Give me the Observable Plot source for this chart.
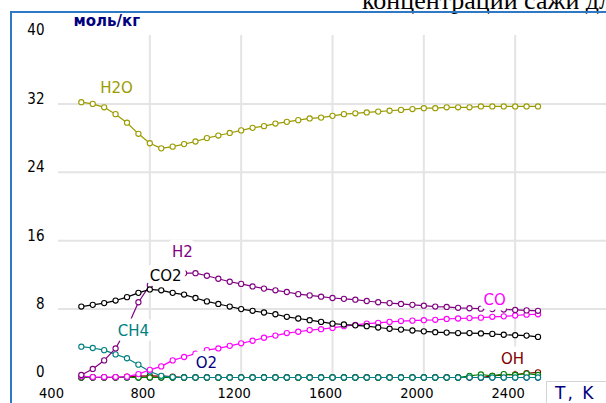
<!DOCTYPE html>
<html><head><meta charset="utf-8">
<script src="https://cdn.jsdelivr.net/npm/d3@7"></script>
<script src="https://cdn.jsdelivr.net/npm/@observablehq/plot@0.6"></script>
<style>
body{margin:0;width:606px;height:403px;overflow:hidden;position:relative;background:#fff;}
#chart{position:absolute;left:0;top:0}
#title{position:absolute;left:362px;top:-12px;font:26px "Liberation Serif";line-height:26px;white-space:nowrap;color:#000}
#frame{position:absolute;left:10px;top:11px;width:620px;height:420px;border-left:2px solid #2f78c4;border-top:2px solid #2f78c4;}
#tk{position:absolute;left:546px;top:381px;width:80px;height:40px;border:1px solid #d4d4d4;font:17px "DejaVu Sans";color:#000080;padding:1px 0 0 8px;letter-spacing:2px;white-space:pre;background:#fff}
</style></head><body>
<div id="chart"></div>
<div id="title">концентрации сажи для</div>
<div id="frame"></div>
<div id="tk">T, K</div>
<script>
// Temperature grid, K
const T = [500,550,600,650,700,750,800,850,900,950,1000,1050,1100,1150,1200,1250,1300,1350,1400,1450,1500,
           1550,1600,1650,1700,1750,1800,1850,1900,1950,2000,2050,2100,2150,2200,2250,2300,2350,2400,2450,2500];

// Concentrations, моль/кг
const H2O = [32.2,32.0,31.6,30.8,29.8,28.5,27.4,26.8,27.0,27.3,27.6,28.0,28.3,28.6,28.9,29.2,29.4,29.7,29.9,30.1,30.3,
             30.4,30.6,30.8,30.9,31.0,31.1,31.2,31.3,31.4,31.5,31.5,31.6,31.6,31.6,31.7,31.7,31.7,31.7,31.7,31.7];
const CO2 = [8.3,8.5,8.7,9.0,9.4,9.9,10.3,10.2,9.9,9.7,9.3,8.9,8.6,8.3,8.0,7.8,7.6,7.4,7.1,6.9,6.7,
             6.5,6.3,6.2,6.1,6.0,5.85,5.7,5.6,5.5,5.4,5.3,5.25,5.2,5.2,5.15,5.1,5.0,4.95,4.9,4.75];
const H2  = [0.3,1.0,2.0,3.4,5.8,8.8,10.8,11.6,12.0,12.2,12.2,11.9,11.55,11.2,10.95,10.65,10.4,10.2,10.0,9.75,9.6,
             9.45,9.3,9.2,9.1,8.95,8.8,8.7,8.6,8.5,8.4,8.3,8.25,8.15,8.1,8.05,8.0,7.95,7.9,7.85,7.8];
const CH4 = [3.6,3.45,3.2,2.7,2.25,1.5,0.7,0.2,0.05,0,0,0,0,0,0,0,0,0,0,0,0,
             0,0,0,0,0,0,0,0,0,0,0,0,0,0,0,0,0,0,0,0];
const CO  = [0.15,0.05,0.05,0.05,0.1,0.4,0.9,1.3,2.0,2.4,2.8,3.2,3.4,3.7,4.0,4.3,4.65,4.9,5.2,5.35,5.55,
             5.65,5.8,6.0,6.15,6.3,6.4,6.5,6.6,6.65,6.7,6.75,6.85,6.9,6.95,7.0,7.1,7.15,7.25,7.35,7.4];
const O2  = [0,0,0,0,0,0,0,0,0,0,0,0,0,0,0,0,0,0,0,0,0,
             0,0,0,0,0,0,0,0,0,0,0,0,0,0,0,0,0,0,0,0];
const OH  = [0,0,0,0,0.1,0.15,0.2,0.15,0.1,0,0,0,0,0,0,0,0,0,0,0,0,
             0,0,0,0,0,0,0,0,0,0,0,0,0,0,0,0.2,0.3,0.35,0.5,0.6];
const H   = [0,0,0,0,0,0,0,0,0,0,0,0,0,0,0,0,0,0,0,0,0,
             0,0,0,0,0,0,0,0,0,0,0,0,0,0.2,0.35,0.2,0.4,0.3,0.45,0.3];

// draw order (bottom to top)
const seriesNames  = ["O2","OH","H","CH4","CO","H2","CO2","H2O"];
const seriesValues = [O2, OH, H, CH4, CO, H2, CO2, H2O];
const seriesColors = ["#000080","#800000","#008000","#008080","#ff00ff","#800080","#000000","#9b9b00"];

// in-chart series labels
const labelNames  = ["H2O","H2","CO2","CH4","O2","CO","OH"];
const labelT      = [654, 943, 869, 728, 1048, 2310, 2388];
const labelV      = [33.8, 14.6, 11.9, 5.4, 1.64, 9.0, 2.1];
const labelColors = ["#9b9b00","#800080","#000000","#008080","#000080","#ff00ff","#800000"];

const xTicks = [400,800,1200,1600,2000,2400];
const yTicks = [0,8,16,24,32,40];
const xGrid = [800,1200,1600,2000,2400];
const yGrid = [8,16,24,32];
const yUnit = "моль/кг";

const seriesMarks = seriesNames.flatMap((name, i) => {
  const rows = T.map((t, j) => ({T: t, v: seriesValues[i][j]}));
  return [
    Plot.line(rows, {x: "T", y: "v", stroke: seriesColors[i], strokeWidth: 1.2}),
    Plot.dot(rows, {x: "T", y: "v", r: 2.6, stroke: seriesColors[i], fill: "white", strokeWidth: 1.1})
  ];
});

const labels = labelNames.map((n, i) => ({n, T: labelT[i], v: labelV[i], c: labelColors[i]}));

const plot = Plot.plot({
  width: 606, height: 403,
  marginLeft: 58, marginRight: 0, marginTop: 35, marginBottom: 26,
  style: {background: "transparent", fontFamily: "DejaVu Sans Condensed", fontSize: "15px", color: "#000"},
  x: {domain: [400, 2800]},
  y: {domain: [0, 40]},
  marks: [
    Plot.gridX(xGrid, {stroke: "#e4e4e4", strokeOpacity: 1, strokeWidth: 2}),
    Plot.gridY(yGrid, {stroke: "#e4e4e4", strokeOpacity: 1, strokeWidth: 2}),
    Plot.axisX(xTicks, {tickSize: 0, tickPadding: 10, dx: -7, tickFormat: d => String(d), label: null, fontSize: 14.5}),
    Plot.axisY(yTicks, {tickSize: 0, tickPadding: 14, dy: -5, tickFormat: d => String(d), label: null, fontSize: 15}),
    ...seriesMarks,
    Plot.text(labels, {x: "T", y: "v", text: "n", fill: "c", stroke: "white", strokeWidth: 11,
      fontFamily: "DejaVu Sans", fontSize: 15}),
    Plot.text([yUnit], {frameAnchor: "top-left", dx: 15, dy: -20, textAnchor: "start",
      fill: "#000080", fontWeight: "bold", fontFamily: "DejaVu Sans", fontSize: 15})
  ]
});
document.getElementById("chart").appendChild(plot);
</script>
</body></html>
